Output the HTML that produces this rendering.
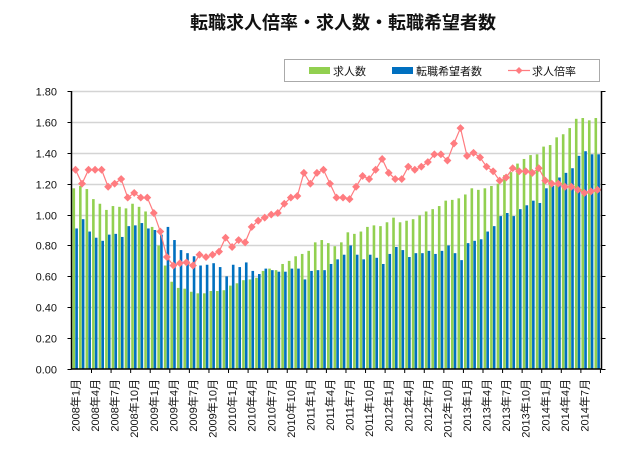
<!DOCTYPE html>
<html><head><meta charset="utf-8"><style>
body{margin:0;background:#fff;width:635px;height:455px;overflow:hidden}
svg text{font-family:"Liberation Sans","Noto Sans CJK JP",sans-serif}
</style></head><body>
<svg id="c" width="635" height="455" xmlns="http://www.w3.org/2000/svg">
<text x="343" y="29" text-anchor="middle" font-size="18" font-weight="bold" fill="#111">転職求人倍率・求人数・転職希望者数</text>
<g>
<rect x="284.5" y="59.5" width="315" height="22" fill="#fff" stroke="#aaa"/>
<g><rect x="309" y="67" width="21" height="7" fill="#92d050"/><text x="333" y="75" font-size="11" fill="#111">求人数</text></g>
<g><rect x="392" y="67" width="21" height="7" fill="#0070c0"/><text x="416" y="75" font-size="11" fill="#111">転職希望者数</text></g>
<g><line x1="508" y1="70.5" x2="530" y2="70.5" stroke="#ff7c80" stroke-width="1.2"/><rect x="516.5" y="68" width="5" height="5" fill="#ff7c80" transform="rotate(45 519 70.5)"/><text x="532" y="75" font-size="11" fill="#111">求人倍率</text></g>
</g>
<g id="grid"></g><g id="bars"></g><g id="line"></g><g id="axes"></g>
</svg>
<script>
const categories=[];for(let y=2008;y<=2014;y++)for(let m=1;m<=12;m++){if(y===2014&&m>9)break;categories.push(y+"年"+m+"月");}
const yTicks=["0.00","0.20","0.40","0.60","0.80","1.00","1.20","1.40","1.60","1.80"];
const offers=[1.17,1.185,1.165,1.10,1.07,1.03,1.055,1.05,1.04,1.07,1.05,1.02,0.92,0.80,0.67,0.565,0.525,0.52,0.50,0.49,0.49,
0.505,0.505,0.51,0.54,0.555,0.575,0.58,0.59,0.635,0.65,0.64,0.68,0.70,0.73,0.745,0.765,0.82,0.835,0.815,
0.795,0.82,0.885,0.875,0.89,0.92,0.93,0.925,0.95,0.98,0.95,0.96,0.97,0.995,1.02,1.035,1.055,1.09,1.095,1.105,
1.13,1.17,1.16,1.17,1.185,1.20,1.255,1.275,1.33,1.36,1.385,1.39,1.44,1.45,1.50,1.52,1.56,1.62,1.625,1.61,1.625];
const seekers=[0.91,0.97,0.89,0.85,0.83,0.87,0.875,0.855,0.925,0.93,0.945,0.91,0.90,0.87,0.92,0.835,0.77,0.75,0.73,0.67,
0.675,0.685,0.66,0.60,0.675,0.66,0.69,0.635,0.615,0.65,0.64,0.63,0.63,0.65,0.65,0.58,0.635,0.64,0.64,0.68,
0.71,0.74,0.80,0.74,0.71,0.74,0.72,0.68,0.745,0.79,0.77,0.725,0.75,0.75,0.765,0.745,0.765,0.80,0.75,0.705,
0.815,0.83,0.84,0.89,0.925,0.99,1.01,0.99,1.035,1.06,1.09,1.075,1.17,1.185,1.24,1.27,1.30,1.38,1.41,1.39,1.39];
const ratio=[1.29,1.20,1.29,1.29,1.29,1.18,1.20,1.23,1.11,1.14,1.11,1.11,
1.01,0.89,0.725,0.67,0.685,0.69,0.67,0.74,0.725,0.74,0.76,0.85,
0.79,0.835,0.82,0.92,0.96,0.98,1.00,1.01,1.07,1.11,1.12,1.27,
1.20,1.27,1.29,1.20,1.11,1.11,1.10,1.18,1.25,1.23,1.29,1.36,
1.27,1.23,1.23,1.31,1.29,
1.31,1.34,1.39,1.39,1.35,1.46,1.56,1.38,1.40,1.37,1.31,1.28,1.22,1.24,1.30,1.28,1.28,1.27,1.30,1.22,1.20,1.20,1.18,1.18,1.16,1.14,1.15,1.16];
const NS="http://www.w3.org/2000/svg";
const L=71.5,R=601.5,T=91,B=369,YMAX=1.8;
const step=6.525,x0=75.5;
function xc(i){return x0+i*step;}
function y(v){return B-(v/YMAX)*(B-T);}
function mk(tag,parent,attrs){const e=document.createElementNS(NS,tag);for(const k in attrs)e.setAttribute(k,attrs[k]);document.getElementById(parent).appendChild(e);return e;}
yTicks.forEach((t,i)=>{const v=parseFloat(t),yy=Math.round(y(v))+0.5;
 if(v>0){const g=mk('line','grid',{x1:L,x2:R,y1:yy,y2:yy,stroke:'#d4d4d4','stroke-width':1.5});
 
 }
 const tl=mk('text','axes',{x:57,y:yy+4,'text-anchor':'end','font-size':11,fill:'#111'});tl.textContent=t;
 
 
 const tk=mk('line','axes',{x1:L-4,x2:L,y1:yy,y2:yy,stroke:'#000'});
 
 
 const tr=mk('line','axes',{x1:R,x2:R+4,y1:yy,y2:yy,stroke:'#000'});
 
 
});
categories.forEach((c,i)=>{
 const g=mk('rect','bars',{x:xc(i)-3,y:y(offers[i]),width:2.6,height:B-y(offers[i]),fill:'#92d050'});
 
 
 const b=mk('rect','bars',{x:xc(i)-0.2,y:y(seekers[i]),width:2.6,height:B-y(seekers[i]),fill:'#0070c0'});
 
 
 if(i%3===0){
  const t=mk('text','axes',{x:0,y:0,'text-anchor':'end','font-size':11,fill:'#111',transform:`translate(${xc(i)+4},379) rotate(-90)`});t.textContent=c;
  
  
  const tk=mk('line','axes',{x1:xc(i)+16,x2:xc(i)+16,y1:B,y2:B+4,stroke:'#000'});
  
  
 }
});
const pts=ratio.map((v,i)=>xc(i)+','+y(v)).join(' ');
const pl=mk('polyline','line',{points:pts,fill:'none',stroke:'#ff7c80','stroke-width':1.2});


ratio.forEach((v,i)=>{const m=mk('rect','line',{x:xc(i)-2.8,y:y(v)-2.8,width:5.6,height:5.6,fill:'#ff7c80',transform:`rotate(45 ${xc(i)} ${y(v)})`});
 
 });
const al=mk('line','axes',{x1:L,x2:L,y1:T,y2:B,stroke:'#000','stroke-width':1.5});


const ar=mk('line','axes',{x1:R,x2:R,y1:T,y2:B,stroke:'#000','stroke-width':1.5});


const ab=mk('line','axes',{x1:L,x2:R,y1:B,y2:B,stroke:'#000','stroke-width':1.5});


</script>
</body></html>
